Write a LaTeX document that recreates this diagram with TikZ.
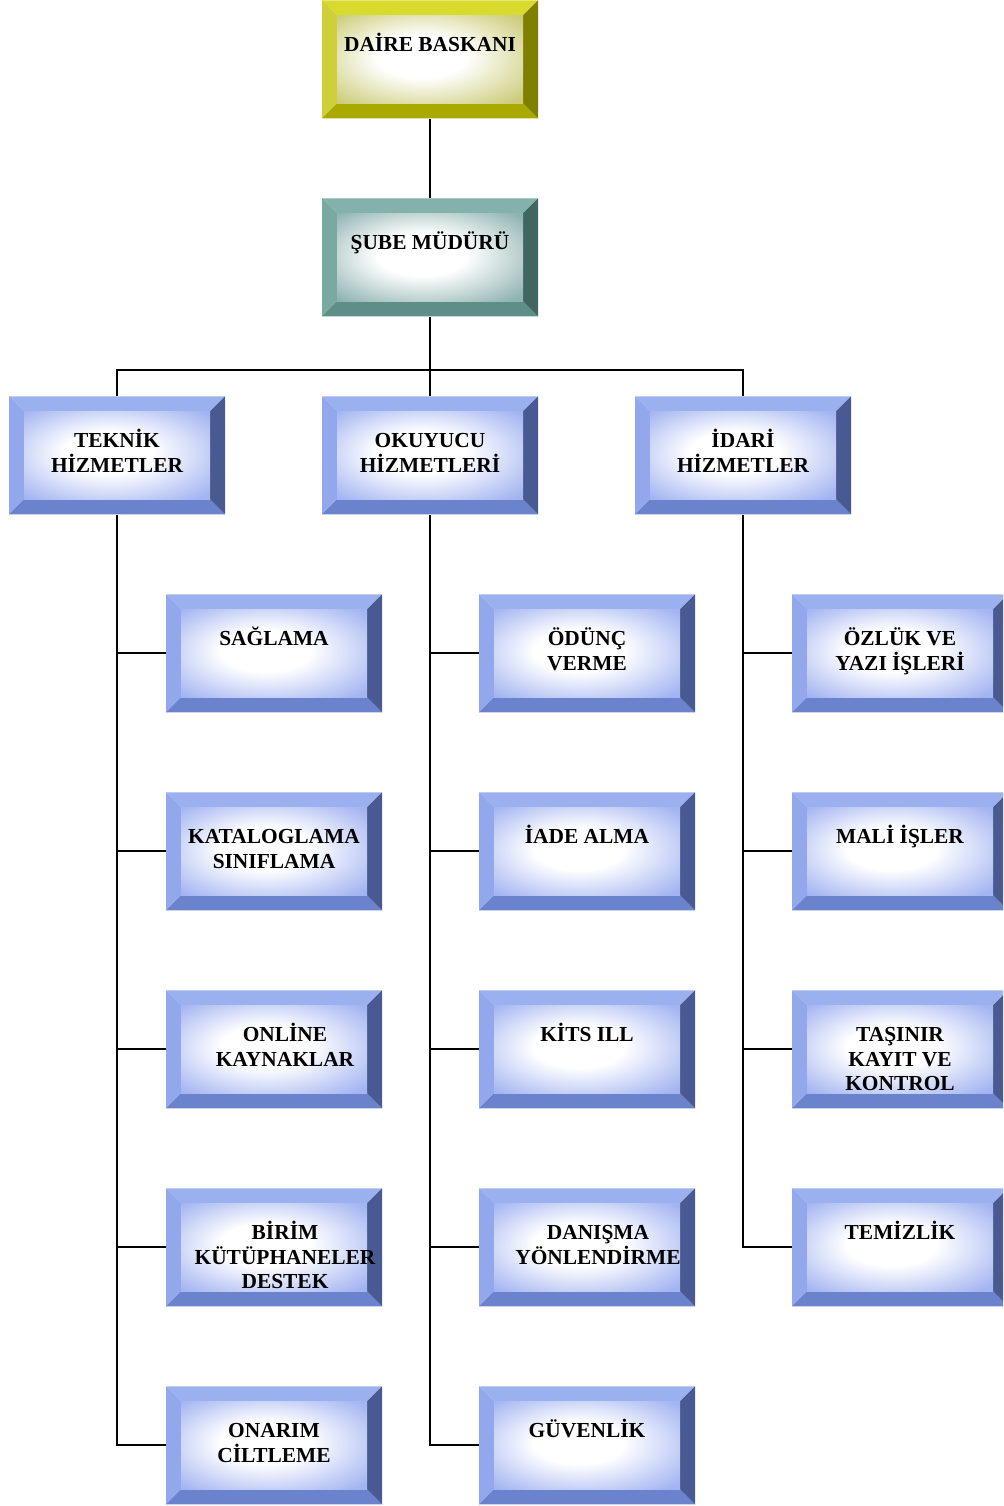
\documentclass[tikz,border=0pt]{standalone}
\usepackage{fontspec}
\setmainfont{Liberation Serif}
\usetikzlibrary{calc}

% bevel colours
\definecolor{yeltop}{HTML}{D9D92E}
\definecolor{yelleft}{HTML}{CFCF3A}
\definecolor{yelright}{HTML}{7F7F00}
\definecolor{yelbottom}{HTML}{A9A900}
\definecolor{yelface}{HTML}{CCCC7A}
\definecolor{teatop}{HTML}{82B2AA}
\definecolor{tealeft}{HTML}{7AA9A2}
\definecolor{tearight}{HTML}{3F6660}
\definecolor{teabottom}{HTML}{5E8E88}
\definecolor{teaface}{HTML}{8FB3B1}
\definecolor{blutop}{HTML}{9BB0EF}
\definecolor{bluleft}{HTML}{93A8EC}
\definecolor{bluright}{HTML}{485A91}
\definecolor{blubottom}{HTML}{6B83CC}
\definecolor{bluface}{HTML}{A3B4F1}

\colorlet{facecol}{bluface}
\pgfdeclareradialshading[facecol]{bevelface}{\pgfpoint{-3bp}{2bp}}{%
  color(0bp)=(white); color(12bp)=(white); color(34bp)=(facecol); color(50bp)=(facecol)}

\tikzset{
  orgbox/.style={minimum width=108pt, minimum height=59pt, inner sep=0pt,
    path picture={
      \coordinate (nw) at (path picture bounding box.north west);
      \coordinate (ne) at (path picture bounding box.north east);
      \coordinate (sw) at (path picture bounding box.south west);
      \coordinate (se) at (path picture bounding box.south east);
      \coordinate (inw) at ($(nw)+(7.5pt,-7.5pt)$);
      \coordinate (ine) at ($(ne)+(-7.5pt,-7.5pt)$);
      \coordinate (isw) at ($(sw)+(7.5pt,7.5pt)$);
      \coordinate (ise) at ($(se)+(-7.5pt,7.5pt)$);
      \fill[#1top] (nw) -- (ne) -- (ine) -- (inw) -- cycle;
      \fill[#1left] (nw) -- (sw) -- (isw) -- (inw) -- cycle;
      \fill[#1right] (ne) -- (se) -- (ise) -- (ine) -- cycle;
      \fill[#1bottom] (sw) -- (se) -- (ise) -- (isw) -- cycle;
      \colorlet{facecol}{#1face}
      \shade[shading=bevelface] (inw) rectangle (ise);
    }},
  orgtext/.style={anchor=north, inner sep=0pt, align=center,
    font=\bfseries\fontsize{10.7}{12.3}\selectfont},
  link/.style={line width=1pt, black}
}

% name, centre x, top y, palette, text ([text x offset])
\newcommand{\unit}[6][0]{%
  \node[orgbox=#5, anchor=north] (#2) at (#3,#4) {};
  \node[orgtext] (#2-t) at ($(#2.north)+(#1,33)$) {\vphantom{İÖ}#6};
}

\begin{document}
\begin{tikzpicture}[x=0.5pt, y=-0.5pt]
  \useasboundingbox (0,0) rectangle (1003,1506);
  \clip (0,0) rectangle (1003,1506);

  \unit{daire}{430}{0}{yel}{DAİRE BASKANI}
  \unit{sube}{430}{198}{tea}{ŞUBE MÜDÜRÜ}

  \unit{teknik}{117}{396}{blu}{TEKNİK\\HİZMETLER}
  \unit{okuyucu}{430}{396}{blu}{OKUYUCU\\HİZMETLERİ}
  \unit{idari}{743}{396}{blu}{İDARİ\\HİZMETLER}

  \unit{sagl}{274}{594}{blu}{SAĞLAMA}
  \unit{katal}{274}{792}{blu}{KATALOGLAMA\\SINIFLAMA}
  \unit[11]{online}{274}{990}{blu}{ONLİNE\\KAYNAKLAR}
  \unit[11]{birim}{274}{1188}{blu}{BİRİM\\KÜTÜPHANELER\\DESTEK}
  \unit{onarim}{274}{1386}{blu}{ONARIM\\CİLTLEME}

  \unit{odunc}{587}{594}{blu}{ÖDÜNÇ\\VERME}
  \unit{iade}{587}{792}{blu}{İADE ALMA}
  \unit{kits}{587}{990}{blu}{KİTS ILL}
  \unit[11]{danisma}{587}{1188}{blu}{DANIŞMA\\YÖNLENDİRME}
  \unit{guven}{587}{1386}{blu}{GÜVENLİK}

  \unit{ozluk}{900}{594}{blu}{ÖZLÜK VE\\YAZI İŞLERİ}
  \unit{mali}{900}{792}{blu}{MALİ İŞLER}
  \unit{tasinir}{900}{990}{blu}{TAŞINIR\\KAYIT VE\\KONTROL}
  \unit{temiz}{900}{1188}{blu}{TEMİZLİK}

  % connectors
  \coordinate (bus) at (430,370);
  \draw[link] (daire) -- (sube);
  \draw[link] (sube) -- (bus) -- (okuyucu);
  \draw[link] (teknik.north) |- (bus) -| (idari.north);

  \draw[link] (teknik.south) |- (onarim.west);
  \foreach \c in {sagl,katal,online,birim}
    \draw[link] (\c.west) -- (\c.west -| teknik.south);
  \draw[link] (okuyucu.south) |- (guven.west);
  \foreach \c in {odunc,iade,kits,danisma}
    \draw[link] (\c.west) -- (\c.west -| okuyucu.south);
  \draw[link] (idari.south) |- (temiz.west);
  \foreach \c in {ozluk,mali,tasinir}
    \draw[link] (\c.west) -- (\c.west -| idari.south);
\end{tikzpicture}
\end{document}
